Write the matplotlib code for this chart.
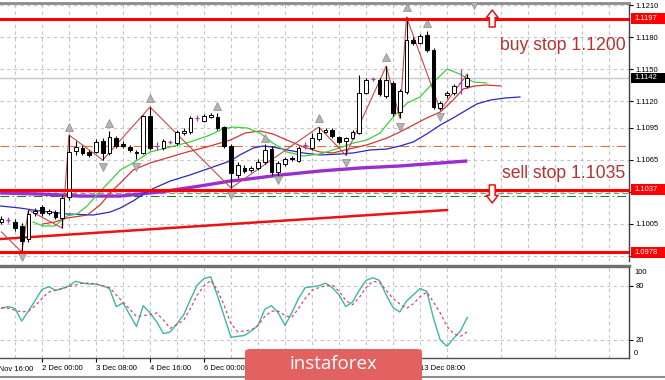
import matplotlib
matplotlib.use("Agg")
import matplotlib.pyplot as plt
import matplotlib.transforms as mtransforms
from matplotlib.patches import Rectangle, FancyBboxPatch
from matplotlib.lines import Line2D
import numpy as np

plt.rcParams['font.family'] = ['Liberation Sans', 'DejaVu Sans']

# ---------------- data ----------------
opens = [1.10066, 1.10084, 1.10066, 1.10028, 1.09906, 1.10150, 1.10206, 1.10150, 1.10159, 1.10103,
         1.10300, 1.10731, 1.10759, 1.10722, 1.10722, 1.10825, 1.10713, 1.10853, 1.10797, 1.10769,
         1.10722, 1.10713, 1.11059, 1.10778, 1.10759, 1.10816, 1.10806, 1.10900, 1.10909, 1.11041,
         1.11013, 1.11050, 1.11050, 1.10956, 1.10778, 1.10506, 1.10572, 1.10553, 1.10572, 1.10628,
         1.10750, 1.10534, 1.10609, 1.10666, 1.10638, 1.10788, 1.10759, 1.10844, 1.10909, 1.10928,
         1.10863, 1.10825, 1.10853, 1.10900, 1.11275, 1.11406, 1.11397, 1.11247, 1.11369, 1.11097,
         1.11284, 1.11772, 1.11744, 1.11819, 1.11678, 1.11134, 1.11256, 1.11275, 1.11369, 1.11341]
highs = [1.10122, 1.10113, 1.10094, 1.10056, 1.10178, 1.10197, 1.10225, 1.10188, 1.10178, 1.10319,
         1.10881, 1.10825, 1.10788, 1.10741, 1.10844, 1.10853, 1.10919, 1.10872, 1.10825, 1.10788,
         1.10741, 1.11069, 1.11144, 1.10816, 1.10844, 1.10834, 1.10928, 1.10947, 1.11059, 1.11069,
         1.11078, 1.11088, 1.11088, 1.10966, 1.10797, 1.10628, 1.10600, 1.10591, 1.10656, 1.10797,
         1.10778, 1.10638, 1.10675, 1.10684, 1.10778, 1.10816, 1.10900, 1.10956, 1.10947, 1.10947,
         1.10872, 1.10863, 1.10928, 1.11444, 1.11416, 1.11425, 1.11416, 1.11528, 1.11388, 1.11313,
         1.11988, 1.11800, 1.11828, 1.11856, 1.11697, 1.11200, 1.11294, 1.11359, 1.11500, 1.11453]
lows = [1.10047, 1.10056, 1.09981, 1.09784, 1.09878, 1.10122, 1.10122, 1.10131, 1.10094, 1.10009,
        1.10272, 1.10694, 1.10694, 1.10675, 1.10713, 1.10647, 1.10694, 1.10759, 1.10759, 1.10722,
        1.10656, 1.10703, 1.10741, 1.10741, 1.10741, 1.10797, 1.10788, 1.10881, 1.10891, 1.11013,
        1.11003, 1.11041, 1.10928, 1.10759, 1.10384, 1.10478, 1.10525, 1.10534, 1.10553, 1.10609,
        1.10506, 1.10441, 1.10591, 1.10638, 1.10628, 1.10750, 1.10741, 1.10825, 1.10900, 1.10853,
        1.10797, 1.10694, 1.10844, 1.10891, 1.11266, 1.11388, 1.11247, 1.11228, 1.11059, 1.11041,
        1.11266, 1.11725, 1.11734, 1.11659, 1.11125, 1.11116, 1.11228, 1.11256, 1.11266, 1.11322]
closes = [1.10094, 1.10084, 1.10009, 1.09888, 1.10141, 1.10169, 1.10150, 1.10169, 1.10113, 1.10291,
          1.10722, 1.10769, 1.10713, 1.10694, 1.10816, 1.10713, 1.10863, 1.10778, 1.10778, 1.10741,
          1.10713, 1.11059, 1.10759, 1.10778, 1.10825, 1.10816, 1.10909, 1.10919, 1.11041, 1.11041,
          1.11059, 1.11069, 1.10947, 1.10778, 1.10525, 1.10600, 1.10544, 1.10572, 1.10628, 1.10741,
          1.10534, 1.10619, 1.10656, 1.10656, 1.10759, 1.10788, 1.10853, 1.10900, 1.10928, 1.10872,
          1.10816, 1.10853, 1.10909, 1.11275, 1.11397, 1.11406, 1.11266, 1.11397, 1.11088, 1.11294,
          1.11772, 1.11744, 1.11809, 1.11678, 1.11144, 1.11181, 1.11275, 1.11341, 1.11369, 1.11416]

stoch_main = [55, 57, 55, 41, 52, 64, 76, 79, 75, 77, 80, 85, 83, 82, 82, 80, 77, 57, 61, 48,
              35, 58, 50, 40, 27, 29, 38, 48, 65, 81, 88, 90, 69, 46, 23, 24, 25, 30, 36, 54,
              58, 50, 36, 50, 66, 78, 79, 80, 83, 78, 70, 57, 62, 75, 86, 89, 86, 70, 56, 51,
              63, 70, 77, 74, 44, 20, 13, 22, 30, 45]
stoch_signal = [56, 55, 53, 51, 52, 58, 66, 73, 75, 77, 79, 81, 83, 83, 82, 80, 78, 70, 62, 54,
                46, 47, 48, 50, 42, 33, 37, 42, 55, 70, 80, 86, 75, 58, 38, 29, 30, 31, 36, 46,
                52, 52, 47, 45, 55, 66, 75, 78, 80, 81, 74, 64, 59, 67, 78, 85, 84, 75, 66, 60,
                55, 60, 68, 73, 62, 50, 35, 27, 24, 29]

jaw_x = [-0.2, 2.7, 5.7, 9.7, 13.6, 16.1, 17.6, 19.5, 22.0, 25.0, 27.9, 30.9, 33.9, 35.3, 37.3,
         38.7, 40.2, 42.3, 44.7, 47.2, 50.1, 52.1, 54.6, 57.1, 59.0, 61.0, 63.0, 65.0, 66.9,
         68.4, 70.4, 72.4, 74.6, 76.8]
jaw_y = [1.10216, 1.10197, 1.10169, 1.10141, 1.10131, 1.10159, 1.10197, 1.10263, 1.10366, 1.10450,
         1.10506, 1.10572, 1.10638, 1.10694, 1.10759, 1.10778, 1.10769, 1.10741, 1.10713, 1.10694,
         1.10703, 1.10713, 1.10741, 1.10750, 1.10778, 1.10816, 1.10891, 1.10975, 1.11041, 1.11097,
         1.11172, 1.11209, 1.11228, 1.11238]

lips_x = [4.7, 6.1, 7.9, 9.7, 11.2, 12.7, 14.1, 16.1, 17.6, 19.5, 22.0, 25.0, 27.9, 30.9, 32.8,
          34.3, 36.4, 38.3, 40.2, 42.3, 44.7, 47.2, 49.1, 50.9, 52.1, 54.1, 56.1, 58.0, 60.1,
          62.0, 63.9, 66.0, 67.9, 69.9, 71.9]
lips_y = [1.10066, 1.10028, 1.10028, 1.10122, 1.10141, 1.10216, 1.10319, 1.10450, 1.10553, 1.10619,
          1.10722, 1.10769, 1.10816, 1.10881, 1.10938, 1.10956, 1.10947, 1.10900, 1.10806, 1.10722,
          1.10684, 1.10703, 1.10741, 1.10778, 1.10806, 1.10834, 1.10900, 1.11050, 1.11181, 1.11238,
          1.11369, 1.11500, 1.11453, 1.11378, 1.11369]

teeth_x = [6.1, 7.9, 9.7, 12.7, 14.6, 16.5, 17.6, 19.5, 22.0, 24.5, 27.5, 30.4, 33.9, 36.1, 38.3,
           40.2, 42.3, 44.7, 47.2, 49.1, 50.9, 54.1, 57.1, 59.0, 61.0, 63.0, 65.0, 66.9, 68.4,
           70.1, 71.9, 73.9]
teeth_y = [1.10047, 1.10066, 1.10103, 1.10131, 1.10225, 1.10366, 1.10431, 1.10553, 1.10619, 1.10666,
           1.10722, 1.10769, 1.10834, 1.10900, 1.10919, 1.10891, 1.10834, 1.10769, 1.10722, 1.10713,
           1.10741, 1.10788, 1.10853, 1.10909, 1.10975, 1.11041, 1.11097, 1.11209, 1.11313, 1.11341,
           1.11350, 1.11341]

slow_ma_x = [-0.2, 5.7, 11.6, 17.6, 20.5, 23.5, 29.4, 33.9, 35.3, 41.3, 47.2, 53.1, 59.0, 65.0, 69.0]
slow_ma_y = [1.10338, 1.10328, 1.10309, 1.10309, 1.10328, 1.10347, 1.10403, 1.10450, 1.10459, 1.10506,
             1.10544, 1.10572, 1.10591, 1.10619, 1.10638]

zigzag_x = [0, 3, 4, 9, 10, 15, 22, 34, 47, 51, 57, 59, 60, 65, 69]
zigzag_y = [1.09972, 1.09784, 1.10178, 1.10009, 1.10881, 1.10647, 1.11144, 1.10384, 1.10956, 1.10694,
            1.11528, 1.11041, 1.11988, 1.11116, 1.11453]

fractal_up_x = [10, 16, 22, 32, 39, 47, 57, 60, 63]
fractal_up_y = [1.10956, 1.10994, 1.11228, 1.11153, 1.10853, 1.11041, 1.11613, 1.12081, 1.11931]
fractal_dn_x = [3, 15, 20, 34, 41, 51, 59, 65, 70]
fractal_dn_y = [1.09738, 1.10581, 1.10581, 1.10319, 1.10459, 1.10619, 1.10956, 1.11050, 1.12100]

trend_x = [-0.2, 66.0]
trend_y = [1.09906, 1.10178]

buy_level = 1.1197
sell_level = 1.1037
low_level = 1.0978
bid_level = 1.1142
orange_level = 1.1078
gray_level = 1.1034
green_level = 1.1031

price_ticks = [1.1210, 1.1180, 1.1150, 1.1120, 1.1095, 1.1065, 1.1035, 1.1005, 1.0975]
time_pos = [-2, 6, 14, 22, 30, 38, 46, 54, 62]
# labels under the logo (9, 10, 12 Dec) are hidden in the reference
time_labels = ["29 Nov 16:00", "2 Dec 00:00", "3 Dec 08:00", "4 Dec 16:00", "6 Dec 00:00",
               "", "", "", "13 Dec 08:00"]

# ---------------- figure ----------------
W, H = 665, 380
fig = plt.figure(figsize=(6.65, 3.8), dpi=100)
fig.patch.set_facecolor('white')

def fx(px):
    return px / W

def fy(py):
    return 1 - py / H

ax = fig.add_axes([0, fy(261), fx(629), fy(3) - fy(261)])
ax2 = fig.add_axes([0, fy(358), fx(629), fy(266) - fy(358)])

XMIN, XMAX = -0.22, 92.96
GRID = dict(color='#C4C4C4', linestyle=(0, (3, 3)), linewidth=0.8)

# main panel
ax.set_xlim(XMIN, XMAX)
ax.set_ylim(1.0970, 1.12119)
ax.set_xticks(np.arange(2, 93, 4))
ax.tick_params(axis='x', length=0, labelbottom=False)
ax.yaxis.tick_right()
ax.set_yticks(price_ticks)
ax.set_yticklabels([f"{v:.4f}" for v in price_ticks])
ax.tick_params(axis='y', direction='out', length=3, width=0.8, pad=2, labelsize=5.5, colors='black')
ax.grid(True, **GRID)
ax.set_axisbelow(True)
for s in ['left', 'bottom']:
    ax.spines[s].set_visible(False)
ax.spines['top'].set_color('#8C8C8C')
ax.spines['top'].set_linewidth(2)
ax.spines['right'].set_color('#404040')
ax.spines['right'].set_linewidth(1)

# horizontal levels
ax.axhline(bid_level, color='#C8C8C8', lw=1, zorder=1)
ax.axhline(orange_level, color='#E07030', lw=0.8, ls=(0, (8, 3, 1, 3)), zorder=2)
ax.axhline(gray_level, color='#909090', lw=0.8, ls=(0, (5, 3)), zorder=2)
ax.axhline(green_level, color='#208020', lw=0.8, ls=(0, (8, 3, 1, 3)), zorder=2)

# indicators
ax.plot(slow_ma_x, slow_ma_y, color='#9A2FD0', lw=2.4, zorder=3, solid_capstyle='butt')
ax.plot(trend_x, trend_y, color='#EE1111', lw=1.8, zorder=3)
ax.plot(jaw_x, jaw_y, color='#2828C8', lw=0.9, zorder=3)
ax.plot(teeth_x, teeth_y, color='#D03838', lw=0.9, zorder=3)
ax.plot(lips_x, lips_y, color='#3CD03C', lw=0.9, zorder=3)
ax.plot(zigzag_x, zigzag_y, color='#C84848', lw=0.8, zorder=3)

# candles
x = np.arange(len(opens))
o = np.array(opens); h = np.array(highs); l = np.array(lows); c = np.array(closes)
up = c > o; dn = c < o; dj = c == o
bw = 0.56
ax.vlines(x[~dj], l[~dj], h[~dj], color='black', lw=0.8, zorder=4)
ax.bar(x[up], c[up] - o[up], bottom=o[up], width=bw, color='white', edgecolor='black', lw=0.7, zorder=5)
ax.bar(x[dn], o[dn] - c[dn], bottom=c[dn], width=bw, color='black', edgecolor='black', lw=0.7, zorder=5)
ax.vlines(x[dj], l[dj], h[dj], color='#A040A0', lw=0.9, zorder=4)
ax.hlines(o[dj], x[dj] - bw / 2, x[dj] + bw / 2, color='#A040A0', lw=0.9, zorder=5)

# fractals
ax.plot(fractal_up_x, fractal_up_y, ls='none', marker='^', ms=6, mfc='#B4B4B4', mec='#8A8A8A', mew=0.5, zorder=6)
ax.plot(fractal_dn_x, fractal_dn_y, ls='none', marker='v', ms=6, mfc='#B4B4B4', mec='#8A8A8A', mew=0.5, zorder=6)

# key levels
for lv in (buy_level, sell_level, low_level):
    ax.axhline(lv, color='#FF0000', lw=2.2, zorder=7)

# stop arrows
arrow_kw = dict(arrowstyle='simple,head_length=0.55,head_width=0.85,tail_width=0.42',
                fc='white', ec='#E81010', lw=1.1, shrinkA=0, shrinkB=0, mutation_scale=10)
ax.annotate('', xy=(72.7, 1.12053), xytext=(72.7, 1.11894), arrowprops=arrow_kw, zorder=8)
ax.annotate('', xy=(72.7, 1.10244), xytext=(72.7, 1.10413), arrowprops=arrow_kw, zorder=8)

# texts
ax.text(73.85, 1.11725, 'buy stop 1.1200', color='#B43232', fontsize=12.7, va='center', ha='left', zorder=9)
ax.text(74.15, 1.10525, 'sell stop 1.1035', color='#B43232', fontsize=12.7, va='center', ha='left', zorder=9)

# price boxes on the right scale
trans = mtransforms.blended_transform_factory(fig.transFigure, ax.transData)
px_price = (1.12119 - 1.0970) / 258.0
for val, col, hpx in [(buy_level, '#FF0000', 11), (bid_level, '#000000', 10),
                      (sell_level, '#FF0000', 11), (low_level, '#FF0000', 11)]:
    hh = hpx * px_price
    fig.add_artist(Rectangle((fx(631), val - hh / 2), fx(34), hh, transform=trans,
                             facecolor=col, edgecolor='none', zorder=10))
    fig.text(fx(646), val, f"{val:.4f}", transform=trans, color='white', fontsize=5.5,
             ha='center', va='center', zorder=11)

# ---------------- stochastic panel ----------------
ax2.set_xlim(XMIN, XMAX)
ax2.set_ylim(0, 102)
ax2.plot(x, stoch_main, color='#3DB6A8', lw=1.0, zorder=3)
ax2.plot(x, stoch_signal, color='#D84860', lw=0.9, ls=(0, (2.2, 2.2)), zorder=3)
ax2.set_xticks(time_pos[1:])
ax2.set_xticklabels(time_labels[1:], ha='left', fontsize=5.5)
ax2.set_xticks(np.arange(2, 93, 8), minor=True)
ax2.tick_params(axis='x', which='major', length=3, width=0.8, pad=2, direction='out')
ax2.tick_params(axis='x', which='minor', length=0)
ax2.text(time_pos[0], -0.09, time_labels[0], transform=mtransforms.blended_transform_factory(ax2.transData, ax2.transAxes),
         fontsize=5.5, ha='left', va='top', clip_on=False)
for lbl in ax2.get_xticklabels():
    lbl.set_ha('left')
ax2.yaxis.tick_right()
ax2.set_yticks([20, 80])
ax2.set_yticklabels(['20', '80'])
ax2.tick_params(axis='y', direction='out', length=3, width=0.8, pad=2, labelsize=5.5)
ytr = mtransforms.blended_transform_factory(ax2.transAxes, ax2.transData)
ax2.text(1.008, 95.3, '100', transform=ytr, fontsize=5.5, va='center', ha='left', clip_on=False)
ax2.text(1.008, 5.5, '0', transform=ytr, fontsize=5.5, va='center', ha='left', clip_on=False)
ax2.grid(True, which='both', **GRID)
ax2.set_axisbelow(True)
ax2.spines['left'].set_visible(False)
ax2.spines['top'].set_color('#707070')
ax2.spines['top'].set_linewidth(2.4)
ax2.spines['bottom'].set_color('#505050')
ax2.spines['bottom'].set_linewidth(1)
ax2.spines['right'].set_color('#404040')
ax2.spines['right'].set_linewidth(1)

# bottom frame line
fig.add_artist(Line2D([0, 1], [fy(376.5), fy(376.5)], transform=fig.transFigure, color='#8C8C8C', lw=1.5))

# logo
fig.add_artist(FancyBboxPatch((fx(245), fy(384)), fx(177), fy(349) - fy(384),
                              boxstyle='round,pad=0,rounding_size=0.008', transform=fig.transFigure,
                              facecolor='#E26262', edgecolor='none', zorder=20))
fig.text(fx(333), fy(364), 'instaforex', color='white', fontsize=13.5, family=['Open Sans', 'DejaVu Sans'],
         ha='center', va='center', zorder=21)

fig.savefig('out.png', dpi=100)
